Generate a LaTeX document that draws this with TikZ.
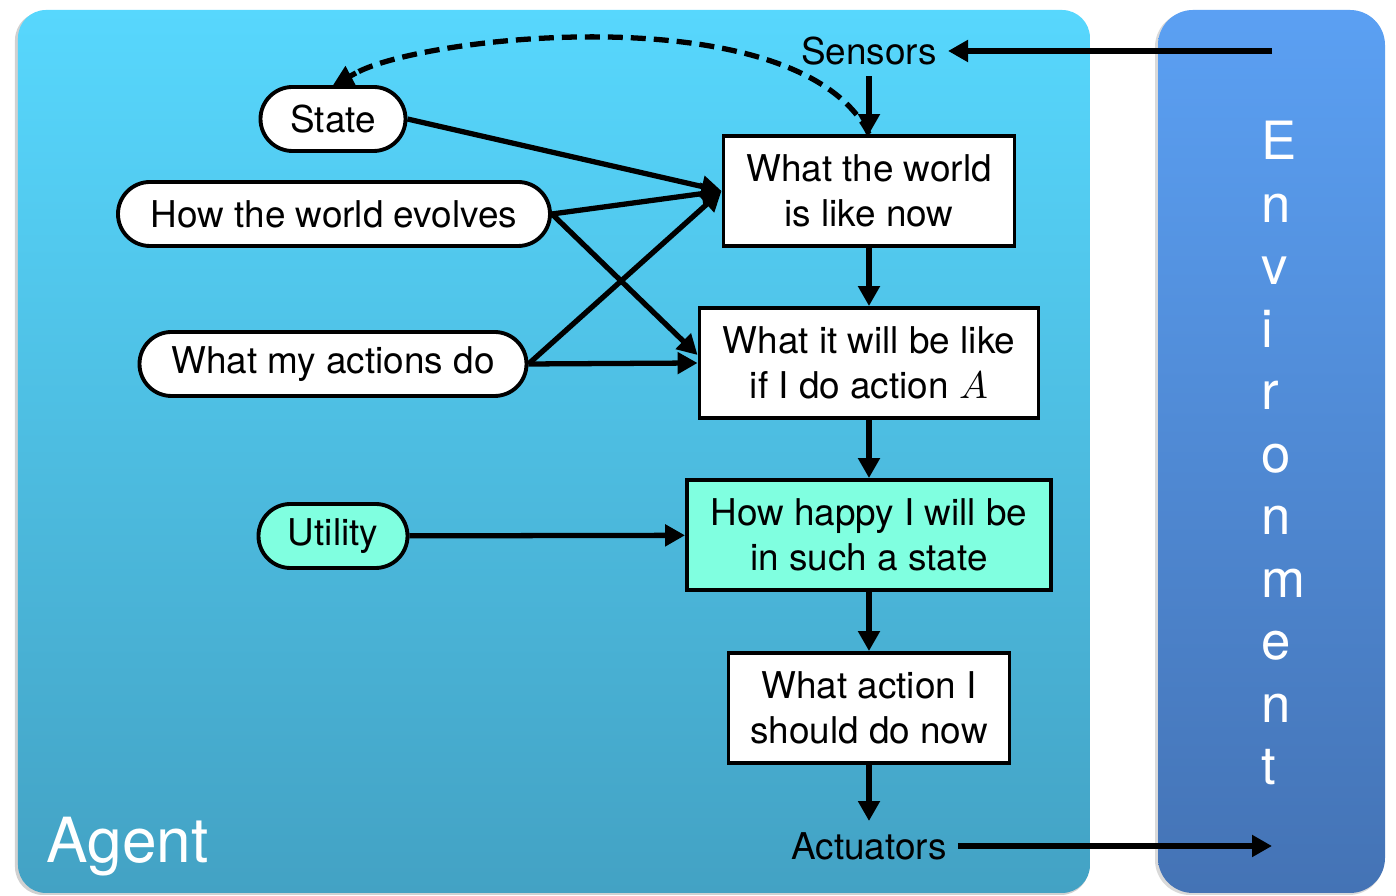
\documentclass[tikz,border=0pt]{standalone}
\usepackage{fontspec}
\setmainfont{TeX Gyre Heros}
\usepackage{tikz}
\usetikzlibrary{arrows.meta, shapes.misc, positioning}
\definecolor{agenttop}{HTML}{57D7FD}
\definecolor{agentbot}{HTML}{43A2C4}
\definecolor{envtop}{HTML}{5BA0F3}
\definecolor{envbot}{HTML}{4473B5}
\definecolor{mint}{HTML}{80FFE0}
\tikzset{
  oval/.style={draw, rounded rectangle, line width=1.1pt, fill=white,
               minimum height=0.64cm, inner sep=0pt,
               font=\fontsize{10.5}{12.8}\selectfont},
  box/.style={draw, rectangle, line width=1.1pt, fill=white,
              minimum height=1.1cm, inner sep=0pt, align=center,
              font=\fontsize{10.5}{12.8}\selectfont},
  port/.style={inner sep=3pt, font=\fontsize{10.5}{12.8}\selectfont},
  arrow/.style={-{Triangle[length=0.2cm, width=0.21cm]}, line width=1.5pt},
  envletter/.style={anchor=base west, inner sep=0pt, text=white,
                    font=\fontsize{15}{18}\selectfont}
}
\begin{document}
\begin{tikzpicture}
  \useasboundingbox (0,0) rectangle (13.96,-8.96);
  \fill[black!18, rounded corners=0.28cm] (0.15,-0.12) rectangle (10.89,-8.95);
  \shade[top color=agenttop, bottom color=agentbot, rounded corners=0.28cm]
    (0.18,-0.10) rectangle (10.90,-8.93);
  \fill[black!15, rounded corners=0.35cm] (11.55,-0.12) rectangle (13.84,-8.95);
  \shade[top color=envtop, bottom color=envbot, rounded corners=0.35cm]
    (11.58,-0.10) rectangle (13.85,-8.93);

  \node[anchor=base west, inner sep=0pt, text=white,
        font=\fontsize{17.7}{20}\selectfont] (agent) at (0.46,-8.63) {Agent};
  \foreach \ch [count=\i] in {E,n,v,i,r,o,n,m,e,n,t}
    \node[envletter] (env\i) at (12.61,{-1.60-0.625*(\i-1)}) {\ch};

  \node[port] (sensors) at (8.69,-0.51) {Sensors};
  \node[port] (actuators) at (8.69,-8.46) {Actuators};
  \coordinate (envin) at (12.72,-0.51);
  \coordinate (envout) at (12.72,-8.46);
  \coordinate (dashend) at (3.56,-0.73);

  \node[oval, minimum width=1.45cm] (state) at (3.33,-1.19) {State};
  \node[oval, minimum width=4.32cm] (evolves) at (3.34,-2.14) {How the world evolves};
  \node[oval, minimum width=3.87cm] (actions) at (3.33,-3.64) {What my actions do};
  \node[oval, minimum width=1.49cm, fill=mint] (utility) at (3.33,-5.36) {Utility};

  \node[box, minimum width=2.91cm] (world) at (8.69,-1.91)
    {What the world\\is like now};
  \node[box, minimum width=3.39cm] (willbe) at (8.69,-3.63)
    {What it will be like\\if I do action $A$};
  \node[box, minimum width=3.64cm, fill=mint] (happy) at (8.69,-5.35)
    {How happy I will be\\in such a state};
  \node[box, minimum width=2.81cm] (action) at (8.69,-7.08)
    {What action I\\should do now};

  \draw[arrow] (envin) -- (sensors);
  \draw[arrow] (sensors) -- (world);
  \draw[line width=1.5pt, dash pattern=on 0.15cm off 0.08cm] (world.north)
    .. controls (8.00,0.05) and (4.25,-0.35) .. (dashend);
  \draw[arrow] (dashend) -- (state.north);
  \draw[arrow] (state.east) -- (world.west);
  \draw[arrow] (evolves.east) -- (world.west);
  \draw[arrow] (actions.east) -- (world.west);
  \draw[arrow] (evolves.east) -- ([yshift=0.08cm]willbe.west);
  \draw[arrow] (actions.east) -- (willbe.west);
  \draw[arrow] (world) -- (willbe);
  \draw[arrow] (willbe) -- (happy);
  \draw[arrow] (utility) -- (happy);
  \draw[arrow] (happy) -- (action);
  \draw[arrow] (action) -- (actuators);
  \draw[arrow] (actuators) -- (envout);
\end{tikzpicture}
\end{document}
